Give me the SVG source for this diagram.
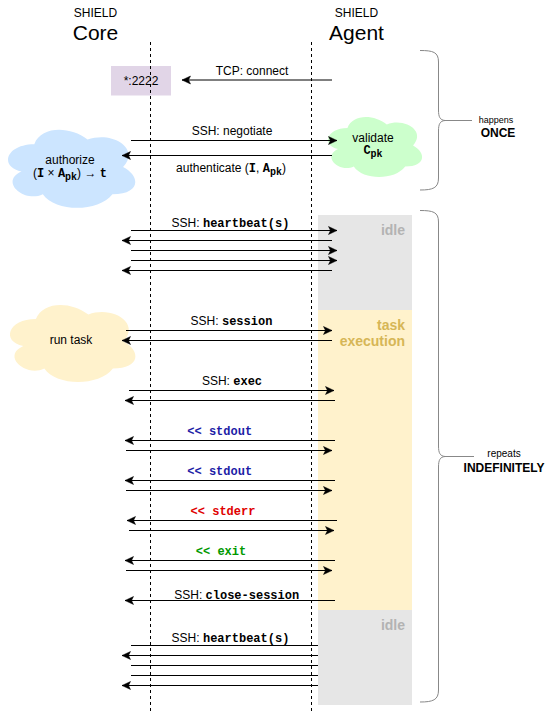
<svg xmlns="http://www.w3.org/2000/svg" width="546" height="712" viewBox="0 0 546 712">
<style>
  text { font-family: "Liberation Sans", Arial, Helvetica, sans-serif; fill: #000; }
  .sm { font-size: 12px; }
  .big { font-size: 21px; }
  .lbl { font-size: 12px; text-anchor: middle; }
  .mono { font-family: "Liberation Mono", "Courier New", monospace; font-weight: bold; }
  .sub { font-size: 10px; }
  .msg { stroke: #000; stroke-width: 1; fill: none; }
  .arr { marker-end: url(#head); }
  .life { stroke: #000; stroke-width: 1; stroke-dasharray: 3 3; fill: none; }
  .brace { stroke: #888; stroke-width: 1; fill: none; }
  .phase { font-size: 14px; font-weight: bold; text-anchor: end; }
</style>
<defs>
  <marker id="head" markerUnits="userSpaceOnUse" markerWidth="10" markerHeight="10" refX="0" refY="0" orient="auto" overflow="visible">
    <path d="M0,0 L-8.5,-4 L-6.5,0 L-8.5,4 Z" fill="#000" stroke="#000" stroke-width="0.5"/>
  </marker>
  <path id="cloud" d="M0.25,0.25 C0.05,0.25 0,0.5 0.16,0.55 C0,0.66 0.18,0.9 0.31,0.8 C0.4,1 0.7,1 0.8,0.8 C1,0.8 1,0.6 0.875,0.5 C1,0.3 0.8,0.1 0.625,0.2 C0.5,0.05 0.3,0.05 0.25,0.25 Z"/>
</defs>
<rect width="546" height="712" fill="#fff"/>

<g id="title-core">
  <text class="sm" x="95.5" y="17" text-anchor="middle">SHIELD</text>
  <text class="big" x="95.5" y="39.5" text-anchor="middle">Core</text>
</g>
<g id="title-agent">
  <text class="sm" x="356.5" y="17" text-anchor="middle">SHIELD</text>
  <text class="big" x="356.5" y="39.5" text-anchor="middle">Agent</text>
</g>

<g id="phase-idle-1">
  <rect x="318" y="215" width="94" height="95" fill="#e6e6e6"/>
  <text class="phase" x="405" y="235" fill="#b3b3b3" style="fill:#b3b3b3">idle</text>
</g>
<g id="phase-task">
  <rect x="318" y="310" width="94" height="300" fill="#fff2cc"/>
  <text class="phase" x="405" y="330" style="fill:#d6b656">task</text>
  <text class="phase" x="405" y="346" style="fill:#d6b656">execution</text>
</g>
<g id="phase-idle-2">
  <rect x="318" y="610" width="94" height="95" fill="#e6e6e6"/>
  <text class="phase" x="405" y="630" style="fill:#b3b3b3">idle</text>
</g>

<g id="port">
  <rect x="111" y="66" width="60" height="29.5" fill="#e1d5e7"/>
  <text class="lbl" x="141" y="85">*:2222</text>
</g>

<g id="cloud-authorize">
  <use href="#cloud" transform="translate(-1.2,121.4) scale(142,91)" fill="#cce5ff"/>
  <text class="lbl" x="70" y="164">authorize</text>
  <text class="lbl" x="70" y="177">(<tspan class="mono">I</tspan> × <tspan class="mono">A</tspan><tspan class="mono sub" dy="3">pk</tspan><tspan dy="-3">) → </tspan><tspan class="mono">t</tspan></text>
</g>
<g id="cloud-validate">
  <use href="#cloud" transform="translate(321.2,110.4) scale(105,70)" fill="#ccffcc"/>
  <text class="lbl" x="373" y="141.5">validate</text>
  <text class="lbl" x="373" y="154"><tspan class="mono">C</tspan><tspan class="mono sub" dy="3">pk</tspan></text>
</g>
<g id="cloud-run-task">
  <use href="#cloud" transform="translate(0.9,296.5) scale(140,90)" fill="#fff2cc"/>
  <text class="lbl" x="71" y="344">run task</text>
</g>

<g id="lifelines">
  <line class="life" x1="150.5" y1="42" x2="150.5" y2="712"/>
  <line class="life" x1="311.5" y1="42" x2="311.5" y2="712"/>
</g>

<g id="braces">
  <path class="brace" d="M420,50.5 C433,50.5 438.5,52 438.5,62 L438.5,110 C438.5,117 440,120 445,120.5 C440,121 438.5,124 438.5,131 L438.5,178 C438.5,188 433,190 420,190"/>
  <path class="brace" d="M445,120.5 L472,120.5"/>
  <text x="496" y="123" style="font-size:9px" text-anchor="middle">happens</text>
  <text x="498" y="137" style="font-size:12px;font-weight:bold" text-anchor="middle">ONCE</text>
  <path class="brace" d="M420,210.5 C433,210.5 438.5,212 438.5,222 L438.5,446 C438.5,453 440,456 445,456.5 C440,457 438.5,460 438.5,467 L438.5,690 C438.5,700 433,702 420,702"/>
  <path class="brace" d="M445,456.5 L474,456.5"/>
  <text x="504" y="456.5" style="font-size:10px" text-anchor="middle">repeats</text>
  <text x="504" y="471.5" style="font-size:12px;font-weight:bold" text-anchor="middle">INDEFINITELY</text>
</g>

<g id="connectors">
  <line class="msg arr" x1="332" y1="80" x2="182" y2="80"/>
  <line class="msg arr" x1="131" y1="140.5" x2="337" y2="140.5"/>
  <line class="msg arr" x1="332" y1="155.5" x2="122" y2="155.5"/>

  <line class="msg arr" x1="131" y1="230.5" x2="337" y2="230.5"/>
  <line class="msg arr" x1="332" y1="240.5" x2="122" y2="240.5"/>
  <line class="msg arr" x1="131" y1="250.5" x2="337" y2="250.5"/>
  <line class="msg arr" x1="131" y1="260.5" x2="337" y2="260.5"/>
  <line class="msg arr" x1="332" y1="270.5" x2="122" y2="270.5"/>

  <line class="msg arr" x1="126" y1="330.5" x2="332" y2="330.5"/>
  <line class="msg arr" x1="332" y1="340.5" x2="122" y2="340.5"/>

  <line class="msg arr" x1="129" y1="390.5" x2="334" y2="390.5"/>
  <line class="msg arr" x1="335" y1="400.5" x2="125" y2="400.5"/>

  <line class="msg arr" x1="335" y1="440.5" x2="125" y2="440.5"/>
  <line class="msg arr" x1="126" y1="450.5" x2="332" y2="450.5"/>
  <line class="msg arr" x1="335" y1="480.5" x2="125" y2="480.5"/>
  <line class="msg arr" x1="126" y1="490.5" x2="332" y2="490.5"/>
  <line class="msg arr" x1="337" y1="520.5" x2="127" y2="520.5"/>
  <line class="msg arr" x1="129" y1="530.5" x2="334" y2="530.5"/>
  <line class="msg arr" x1="335" y1="560.5" x2="125" y2="560.5"/>
  <line class="msg arr" x1="126" y1="570.5" x2="332" y2="570.5"/>

  <line class="msg arr" x1="335" y1="600.5" x2="125" y2="600.5"/>

  <line class="msg" x1="131" y1="645.5" x2="318" y2="645.5"/>
  <line class="msg arr" x1="318" y1="655.5" x2="122" y2="655.5"/>
  <line class="msg" x1="131" y1="665.5" x2="318" y2="665.5"/>
  <line class="msg" x1="131" y1="675.5" x2="318" y2="675.5"/>
  <line class="msg arr" x1="318" y1="685.5" x2="122" y2="685.5"/>
</g>

<g id="connector-labels">
  <text class="lbl" x="252" y="75">TCP: connect</text>
  <text class="lbl" x="232" y="134.5">SSH: negotiate</text>
  <text class="lbl" x="231" y="172">authenticate (<tspan class="mono">I</tspan>, <tspan class="mono">A</tspan><tspan class="mono sub" dy="3">pk</tspan><tspan dy="-3">)</tspan></text>
  <text class="lbl" x="230.5" y="227">SSH: <tspan class="mono">heartbeat(s)</tspan></text>
  <text class="lbl" x="231.5" y="325">SSH: <tspan class="mono">session</tspan></text>
  <text class="lbl" x="232" y="385">SSH: <tspan class="mono">exec</tspan></text>
  <text class="lbl mono" x="219.7" y="435" style="fill:#1c1ca6">&lt;&lt; stdout</text>
  <text class="lbl mono" x="219.7" y="475" style="fill:#1c1ca6">&lt;&lt; stdout</text>
  <text class="lbl mono" x="223" y="515" style="fill:#e00000">&lt;&lt; stderr</text>
  <text class="lbl mono" x="221" y="555" style="fill:#009900">&lt;&lt; exit</text>
  <text class="lbl" x="236.7" y="598.5">SSH: <tspan class="mono">close-session</tspan></text>
  <text class="lbl" x="230.5" y="642">SSH: <tspan class="mono">heartbeat(s)</tspan></text>
</g>
</svg>
